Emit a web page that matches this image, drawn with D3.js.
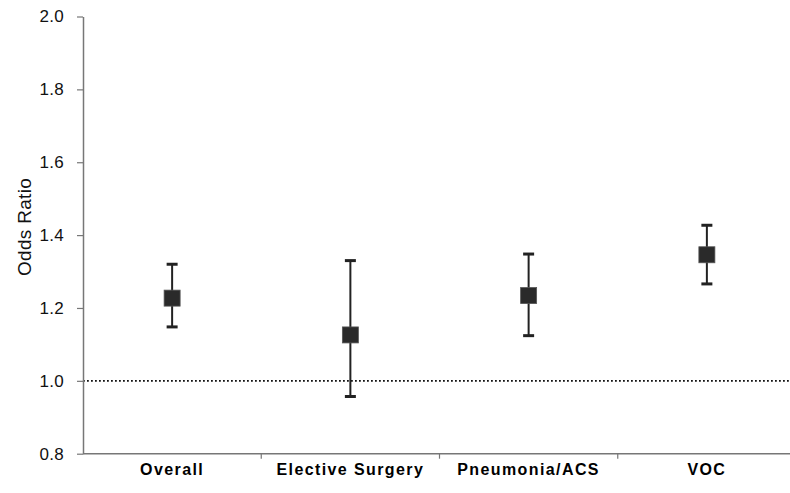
<!DOCTYPE html>
<html>
<head>
<meta charset="utf-8">
<script src="https://cdn.jsdelivr.net/npm/d3@7"></script>
<style>
  body { margin: 0; background: #fff; }
  svg { display: block; }
</style>
</head>
<body>
<div class="chart"></div>
<script>
const categories = ['Overall', 'Elective Surgery', 'Pneumonia/ACS', 'VOC']
const oddsRatio = [1.227, 1.126, 1.234, 1.346]
const lowerCI = [1.148, 0.957, 1.124, 1.266]
const upperCI = [1.32, 1.33, 1.348, 1.427]
const yTicks = [0.8, 1.0, 1.2, 1.4, 1.6, 1.8, 2.0]

const W = 790, H = 493
const margin = { top: 16.5, right: -6, bottom: 39.3, left: 83 }
const width = W - margin.left - margin.right
const height = H - margin.top - margin.bottom

const data = categories.map((c, i) => ({ cat: c, or: oddsRatio[i], lo: lowerCI[i], hi: upperCI[i] }))

const svg = d3.select('.chart')
  .append('svg')
  .attr('width', W)
  .attr('height', H)

const g = svg.append('g')
  .attr('transform', `translate(${ margin.left },${ margin.top })`)

const x = d3.scaleBand()
  .domain(categories)
  .range([0, width])

const y = d3.scaleLinear()
  .domain([0.8, 2.0])
  .range([height, 0])

// reference line at 1.0
g.append('line')
  .attr('x1', 0)
  .attr('x2', W - margin.left)
  .attr('y1', y(1))
  .attr('y2', y(1))
  .attr('stroke', '#111')
  .attr('stroke-width', 1.8)
  .attr('stroke-dasharray', '1.8,2.2')

// y axis
const yAxis = g.append('g')
  .call(d3.axisLeft(y).tickValues(yTicks).tickFormat(d3.format('.1f')).tickSizeInner(6).tickSizeOuter(0).tickPadding(13))
yAxis.select('.domain').attr('stroke', '#777').attr('stroke-width', 1.5)
yAxis.selectAll('.tick line').attr('stroke', '#777').attr('stroke-width', 1.2)
yAxis.selectAll('.tick text')
  .attr('fill', '#111')
  .attr('font-family', 'Arial, "Liberation Sans", sans-serif')
  .attr('font-size', '17px')
  .attr('letter-spacing', '0.3px')

// x axis: ticks at band boundaries
const xAxis = g.append('g')
  .attr('transform', `translate(0,${ height })`)
xAxis.append('line')
  .attr('x1', 0)
  .attr('x2', W - margin.left)
  .attr('stroke', '#777')
  .attr('stroke-width', 1.5)
xAxis.selectAll('.xtick')
  .data(categories.slice(1))
  .enter()
  .append('line')
  .attr('x1', d => x(d))
  .attr('x2', d => x(d))
  .attr('y1', 0)
  .attr('y2', 5)
  .attr('stroke', '#777')
  .attr('stroke-width', 1.2)
xAxis.selectAll('.xlabel')
  .data(categories)
  .enter()
  .append('text')
  .attr('x', d => x(d) + x.bandwidth() / 2)
  .attr('y', 21)
  .attr('text-anchor', 'middle')
  .attr('fill', '#000')
  .attr('font-family', 'Arial, "Liberation Sans", sans-serif')
  .attr('font-weight', 'bold')
  .attr('font-size', '16px')
  .attr('letter-spacing', '1.4px')
  .text(d => d)

// axis title
svg.append('text')
  .attr('transform', `translate(31,${ 227 }) rotate(-90)`)
  .attr('text-anchor', 'middle')
  .attr('fill', '#111')
  .attr('font-family', 'Arial, "Liberation Sans", sans-serif')
  .attr('font-size', '19px')
  .attr('letter-spacing', '0.3px')
  .text('Odds Ratio')

// error bars
const cx = d => x(d.cat) + x.bandwidth() / 2
const capW = 11

const bars = g.selectAll('.bar')
  .data(data)
  .enter()
  .append('g')

bars.append('line')
  .attr('x1', cx).attr('x2', cx)
  .attr('y1', d => y(d.hi)).attr('y2', d => y(d.lo))
  .attr('stroke', '#222').attr('stroke-width', 2)

bars.append('line')
  .attr('x1', d => cx(d) - capW / 2).attr('x2', d => cx(d) + capW / 2)
  .attr('y1', d => y(d.hi)).attr('y2', d => y(d.hi))
  .attr('stroke', '#222').attr('stroke-width', 3)

bars.append('line')
  .attr('x1', d => cx(d) - capW / 2).attr('x2', d => cx(d) + capW / 2)
  .attr('y1', d => y(d.lo)).attr('y2', d => y(d.lo))
  .attr('stroke', '#222').attr('stroke-width', 3)

bars.append('rect')
  .attr('x', d => cx(d) - 8)
  .attr('y', d => y(d.or) - 8)
  .attr('width', 16)
  .attr('height', 16)
  .attr('fill', '#2a2a2a')
  .attr('stroke', '#555')
  .attr('stroke-width', 0.8)
</script>
</body>
</html>
